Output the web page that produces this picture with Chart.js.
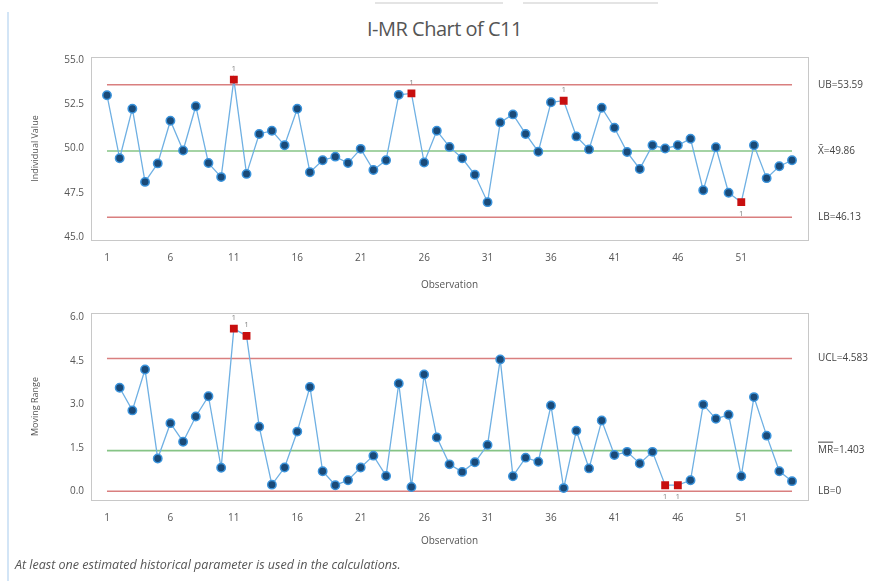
<!DOCTYPE html>
<html>
<head>
<meta charset="utf-8">
<script src="https://cdn.jsdelivr.net/npm/chart.js@4/dist/chart.umd.min.js"></script>
<style>
  body { margin: 0; width: 889px; height: 581px; background: #fff; position: relative; overflow: hidden; font-family: "Open Sans", sans-serif; }
  #side { position: absolute; left: 7px; top: 12px; width: 2px; height: 569px; background: #d3e5f6; }
  .tab { position: absolute; top: 2px; height: 2px; background: #e4e4e4; }
  #title { position: absolute; left: 0; width: 889px; top: 15px; text-align: center; font-size: 20px; color: #555; letter-spacing: -0.5px; }
  #c1 { position: absolute; left: 0; top: 0; }
  #c2 { position: absolute; left: 0; top: 295px; }
  #note { position: absolute; left: 15px; top: 556px; font-size: 12.5px; font-style: italic; color: #555; }
</style>
</head>
<body>
<div id="side"></div>
<div class="tab" style="left:375px;width:128px"></div>
<div class="tab" style="left:523px;width:135px"></div>
<div id="title">I-MR Chart of C11</div>
<canvas id="c1" width="889" height="295"></canvas>
<canvas id="c2" width="889" height="265"></canvas>
<div id="note">At least one estimated historical parameter is used in the calculations.</div>
<script>
// observations 1..55
const obs = Array.from({ length: 55 }, (_, i) => i + 1);
const individual = [
  53.0, 49.45, 52.24, 48.12, 49.16, 51.56, 49.89, 52.38, 49.18, 48.39,
  53.88, 48.57, 50.82, 51.0, 50.18, 52.24, 48.66, 49.34, 49.54, 49.18,
  49.98, 48.79, 49.34, 53.02, 53.1, 49.21, 51.0, 50.09, 49.45, 48.52,
  46.98, 51.47, 51.92, 50.82, 49.82, 52.6, 52.69, 50.68, 49.95, 52.29,
  51.17, 49.8, 48.85, 50.18, 50.0, 50.18, 50.55, 47.65, 50.07, 47.51,
  46.98, 50.18, 48.33, 49.0, 49.34
];
// moving range, observations 2..55
const movingRange = [
  3.57, 2.79, 4.2, 1.13, 2.35, 1.71, 2.58, 3.28, 0.81,
  5.61, 5.36, 2.23, 0.23, 0.82, 2.06, 3.6, 0.69, 0.21, 0.38,
  0.82, 1.23, 0.53, 3.72, 0.15, 4.03, 1.86, 0.93, 0.67, 1.0,
  1.6, 4.55, 0.52, 1.16, 1.02, 2.96, 0.11, 2.09, 0.79, 2.44,
  1.25, 1.36, 0.96, 1.36, 0.21, 0.21, 0.38, 2.99, 2.5, 2.64,
  0.52, 3.25, 1.92, 0.69, 0.35
];
const flaggedI = [11, 25, 37, 51];
const flaggedMR = [11, 12, 45, 46];
const limitsI = { ub: 53.59, center: 49.86, lb: 46.13 };
const limitsMR = { ub: 4.583, center: 1.403, lb: 0 };
const labelsI = ['UB=53.59', 'X\u0304=49.86', 'LB=46.13'];
const labelsMR = ['UCL=4.583', 'MR=1.403', 'LB=0'];
const xTicks = [1, 6, 11, 16, 21, 26, 31, 36, 41, 46, 51];
const yTicksI = [45.0, 47.5, 50.0, 52.5, 55.0];
const yTicksMR = [0.0, 1.5, 3.0, 4.5, 6.0];

const RED = '#c80f0f';
const TXT = '#555';
const FONT = 'Open Sans';

function limitLine(v, color) {
  return {
    data: [{ x: 1, y: v }, { x: 55, y: v }],
    borderColor: color, borderWidth: 1.6, pointRadius: 0, order: 2
  };
}

const sideLabels = {
  id: 'sideLabels',
  afterDraw(chart, args, opts) {
    const ctx = chart.ctx, y = chart.scales.y;
    ctx.save();
    ctx.font = '10px ' + FONT;
    ctx.fillStyle = '#444';
    ctx.textBaseline = 'middle';
    [opts.limits.ub, opts.limits.center, opts.limits.lb].forEach((v, i) => {
      const py = y.getPixelForValue(v);
      ctx.fillText(opts.text[i], 818, py);
      if (opts.bar && i === 1) {
        const w = ctx.measureText('MR').width;
        ctx.fillRect(818, py - 9, w, 1);
      }
    });
    // flag "1" markers next to red points
    const meta = chart.getDatasetMeta(0);
    ctx.font = '8px ' + FONT;
    ctx.fillStyle = '#888';
    ctx.textAlign = 'center';
    meta.data.forEach((pt, i) => {
      const o = opts.xs[i];
      if (opts.flags.includes(o)) {
        const below = opts.below.includes(o);
        ctx.fillText('1', pt.x, below ? pt.y + 12 : pt.y - 11);
      }
    });
    ctx.restore();
  }
};

// light box around plot area
const boxPlugin = {
  id: 'box',
  beforeDatasetsDraw(chart) {
    const a = chart.chartArea, ctx = chart.ctx;
    ctx.save();
    ctx.strokeStyle = '#c8c8c8';
    ctx.lineWidth = 1;
    ctx.strokeRect(a.left + 0.5, a.top + 0.5, a.right - a.left, a.bottom - a.top);
    ctx.restore();
  }
};

function makeChart(id, xs, ys, flags, limits, yTicks, yMin, yMax, yTitle, text, pad, bar, below) {
  const isFlag = ctx => flags.includes(xs[ctx.dataIndex]);
  return new Chart(document.getElementById(id), {
    type: 'line',
    data: {
      datasets: [
        {
          data: xs.map((x, i) => ({ x, y: ys[i] })),
          borderColor: '#6fb0e3', borderWidth: 1.3,
          pointRadius: ctx => isFlag(ctx) ? 4.5 : 4.2,
          pointStyle: ctx => isFlag(ctx) ? 'rect' : 'circle',
          pointBackgroundColor: ctx => isFlag(ctx) ? RED : '#1a4a78',
          pointBorderColor: ctx => isFlag(ctx) ? RED : '#3a93dc',
          pointBorderWidth: 1.5,
          order: 1
        },
        limitLine(limits.ub, '#d97f7f'),
        limitLine(limits.center, '#86c486'),
        limitLine(limits.lb, '#d97f7f')
      ]
    },
    options: {
      responsive: false,
      animation: false,
      layout: { padding: { left: 30, right: 81, top: pad.top, bottom: pad.bottom } },
      plugins: {
        legend: { display: false },
        tooltip: { enabled: false },
        sideLabels: { limits, text, flags, xs, bar, below }
      },
      scales: {
        x: {
          type: 'linear', min: -0.26, max: 56.26,
          afterBuildTicks: s => { s.ticks = xTicks.map(v => ({ value: v })); },
          afterFit: s => { s.height = pad.xh; },
          grid: { display: false, drawTicks: true, tickLength: 4, tickColor: '#aaa' },
          border: { color: '#bbb' },
          ticks: { color: TXT, font: { family: FONT, size: 10 }, padding: 8, maxRotation: 0, autoSkip: false },
          title: { display: true, text: 'Observation', color: TXT, font: { family: FONT, size: 10 }, padding: { top: 2, bottom: 0 } }
        },
        y: {
          min: yMin, max: yMax,
          afterBuildTicks: s => { s.ticks = yTicks.map(v => ({ value: v })); },
          afterFit: s => { s.width = 61; },
          grid: { display: false, drawTicks: true, tickLength: 4, tickColor: '#aaa' },
          border: { color: '#bbb' },
          ticks: { color: TXT, font: { family: FONT, size: 10 }, padding: 3, callback: v => v.toFixed(1) },
          title: { display: true, text: yTitle, color: TXT, font: { family: FONT, size: 9 }, padding: 0 }
        }
      }
    },
    plugins: [sideLabels, boxPlugin]
  });
}

makeChart('c1', obs, individual, flaggedI, limitsI, yTicksI, 44.85, 55.15,
  'Individual Value', labelsI, { top: 57, bottom: 4, xh: 51 }, false, [51]);
makeChart('c2', obs.slice(1), movingRange, flaggedMR, limitsMR, yTicksMR, -0.3, 6.15,
  'Moving Range', labelsMR, { top: 18, bottom: 13, xh: 47 }, true, [45, 46]);
</script>
</body>
</html>
